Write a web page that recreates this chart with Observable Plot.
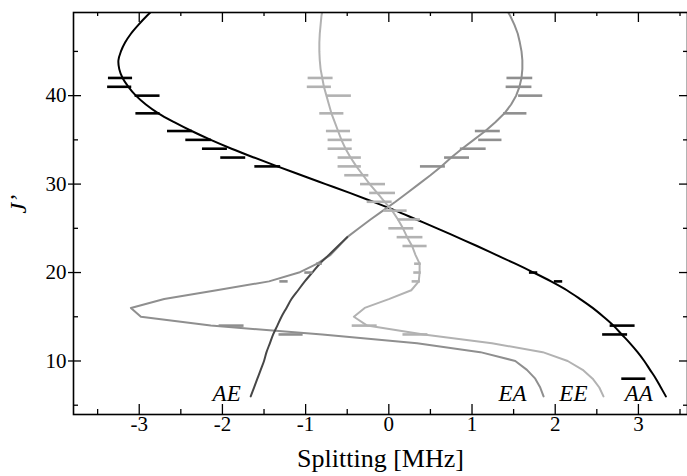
<!DOCTYPE html>
<html>
<head>
<meta charset="utf-8">
<script src="https://cdn.jsdelivr.net/npm/d3@7"></script>
<script src="https://cdn.jsdelivr.net/npm/@observablehq/plot@0.6"></script>
<style>
  html, body { margin: 0; padding: 0; background: white; }
  svg text { font-family: "Liberation Serif", "DejaVu Serif", serif; }
</style>
</head>
<body>
<div id="chart"></div>
<script>
// J' values for the computed curves
const J = [6,7,8,9,10,11,12,13,14,15,16,17,18,19,20,21,22,23,24,25,26,27,28,29,30,31,32,33,34,35,36,37,38,39,40,41,42,43,44,45,46,47,48,49,50];
// splitting [MHz] of each symmetry component
const aaX = [3.33,3.27,3.21,3.14,3.07,2.99,2.90,2.80,2.70,2.58,2.45,2.30,2.14,1.95,1.74,1.52,1.29,1.06,0.82,0.58,0.33,0.08,-0.19,-0.47,-0.76,-1.05,-1.34,-1.62,-1.89,-2.14,-2.37,-2.58,-2.77,-2.92,-3.04,-3.13,-3.20,-3.24,-3.25,-3.22,-3.17,-3.10,-3.01,-2.91,-2.80];
const eaX = [1.86,1.82,1.76,1.66,1.52,1.10,0.34,-0.80,-2.14,-2.98,-3.10,-2.70,-2.07,-1.44,-1.08,-0.86,-0.70,-0.60,-0.50,-0.36,-0.22,-0.07,0.08,0.22,0.36,0.50,0.63,0.75,0.88,1.02,1.16,1.28,1.39,1.47,1.53,1.57,1.595,1.605,1.605,1.595,1.575,1.55,1.51,1.46,1.40];
const eeX = [2.58,2.53,2.45,2.33,2.15,1.85,1.24,0.42,-0.26,-0.42,-0.29,0.00,0.27,0.36,0.37,0.37,0.32,0.28,0.22,0.17,0.11,0.04,-0.05,-0.14,-0.23,-0.31,-0.39,-0.46,-0.52,-0.57,-0.61,-0.65,-0.69,-0.72,-0.75,-0.78,-0.80,-0.82,-0.83,-0.835,-0.835,-0.83,-0.82,-0.81,-0.79];
const aeJ = [6,7,8,9,10,11,12,13,14,15,16,17,18,19,20,21,22,23,24];
const aeX = [-1.66,-1.62,-1.58,-1.54,-1.50,-1.47,-1.43,-1.39,-1.34,-1.29,-1.23,-1.17,-1.09,-1.01,-0.92,-0.83,-0.72,-0.61,-0.50];

// observed splittings (horizontal bars)
const aaObsJ  = [42,41,40,38,36,35,34,33,32,20,19,14,13,8];
const aaObsX1 = [-3.37,-3.38,-3.05,-3.04,-2.66,-2.44,-2.24,-2.02,-1.61,1.69,1.99,2.66,2.57,2.80];
const aaObsX2 = [-3.08,-3.09,-2.75,-2.75,-2.36,-2.13,-1.94,-1.72,-1.30,1.79,2.09,2.96,2.87,3.09];
const eaObsJ  = [42,41,40,38,36,35,34,33,32,21,20,19,14,13];
const eaObsX1 = [1.42,1.41,1.56,1.38,1.04,1.08,0.86,0.67,0.38,-0.87,-1.01,-1.31,-2.04,-1.32];
const eaObsX2 = [1.73,1.72,1.85,1.66,1.34,1.36,1.17,0.97,0.68,-0.80,-0.91,-1.21,-1.74,-1.03];
const eeObsJ  = [42,41,40,38,36,35,34,33,32,31,30,29,28,27,26,25,24,23,21,20,19,14,13];
const eeObsX1 = [-0.97,-0.98,-0.74,-0.83,-0.75,-0.73,-0.73,-0.61,-0.61,-0.53,-0.34,-0.23,-0.26,-0.06,0.11,0.00,0.10,0.17,0.31,0.30,0.28,-0.44,0.17];
const eeObsX2 = [-0.67,-0.69,-0.45,-0.54,-0.46,-0.44,-0.44,-0.33,-0.33,-0.24,-0.04,0.08,0.04,0.22,0.38,0.30,0.41,0.46,0.39,0.39,0.38,-0.14,0.47];

// axis ticks and labels
const xMajor = [-3,-2,-1,0,1,2,3];
const xMinor = [-3.5,-2.5,-1.5,-0.5,0.5,1.5,2.5,3.5];
const yMajor = [10,20,30,40];
const yMinor = [5,15,25,35,45];
const curveNames = ["AE","EA","EE","AA"];
const xLabel = "Splitting [MHz]";
const yLabel = "J’";

const W = 687, H = 476;
const mL = 73, mR = 0, mT = 12, mB = 62;
const innerW = W - mL - mR, innerH = H - mT - mB;
const serif = "Liberation Serif";

const curve = (js, xs) => js.map((j, i) => ({J: j, x: xs[i]}));
const obs = (js, x1, x2) => js.map((j, i) => ({J: j, x1: x1[i], x2: x2[i]}));

const aa = curve(J, aaX), ea = curve(J, eaX), ee = curve(J, eeX), ae = curve(aeJ, aeX);
// each label sits just left of the lower end of its curve
const labelEnds = [
  {name: curveNames[0], x: aeX[0], J: aeJ[0], dx: -10},
  {name: curveNames[1], x: eaX[0], J: J[0], dx: -17},
  {name: curveNames[2], x: eeX[0], J: J[0], dx: -16},
  {name: curveNames[3], x: aaX[0], J: J[0], dx: -13}
];
const labelMarks = labelEnds.map(r => Plot.text([r], {
  x: "x", y: "J", text: "name", dx: r.dx, dy: -3, textAnchor: "end",
  fontFamily: serif, fontStyle: "italic", fontSize: 23, fill: "black"
}));

const cAA = "#000000", cEA = "#8f8f8f", cEE = "#b2b2b2", cAE = "#474747";

const chart = Plot.plot({
  width: W, height: H,
  marginLeft: mL, marginRight: mR, marginTop: mT, marginBottom: mB,
  x: {domain: [-3.79, 3.59], axis: null},
  y: {domain: [3.95, 49.4], axis: null},
  style: {fontFamily: serif, background: "white", color: "black"},
  marks: [
    Plot.line(aa, {x: "x", y: "J", curve: "catmull-rom", stroke: cAA, strokeWidth: 2, clip: true}),
    Plot.line(ea, {x: "x", y: "J", curve: "linear", stroke: cEA, strokeWidth: 2, clip: true}),
    Plot.line(ee, {x: "x", y: "J", curve: "linear", stroke: cEE, strokeWidth: 2, clip: true}),
    Plot.line(ae, {x: "x", y: "J", curve: "catmull-rom", stroke: cAE, strokeWidth: 2, clip: true}),
    Plot.ruleY(obs(eeObsJ, eeObsX1, eeObsX2), {y: "J", x1: "x1", x2: "x2", stroke: cEE, strokeWidth: 2.6}),
    Plot.ruleY(obs(eaObsJ, eaObsX1, eaObsX2), {y: "J", x1: "x1", x2: "x2", stroke: cEA, strokeWidth: 2.6}),
    Plot.ruleY(obs(aaObsJ, aaObsX1, aaObsX2), {y: "J", x1: "x1", x2: "x2", stroke: cAA, strokeWidth: 2.6}),
    // curve labels
    ...labelMarks,
    // frame
    Plot.frame({stroke: "black", strokeWidth: 1.6}),
    // bottom ticks
    Plot.tickX(xMajor, {x: d => d, insetTop: innerH - 10, stroke: "black", strokeWidth: 1.3}),
    Plot.tickX(xMinor, {x: d => d, insetTop: innerH - 5, stroke: "black", strokeWidth: 1.3}),
    // top ticks
    Plot.tickX(xMajor, {x: d => d, insetBottom: innerH - 10, stroke: "black", strokeWidth: 1.3}),
    Plot.tickX(xMinor, {x: d => d, insetBottom: innerH - 4, stroke: "black", strokeWidth: 1.3}),
    // left ticks
    Plot.tickY(yMajor, {y: d => d, insetRight: innerW - 8, insetLeft: -5, stroke: "black", strokeWidth: 1.3}),
    Plot.tickY(yMinor, {y: d => d, insetRight: innerW - 5, stroke: "black", strokeWidth: 1.3}),
    // right ticks
    Plot.tickY(yMajor, {y: d => d, insetLeft: innerW - 8, stroke: "black", strokeWidth: 1.3}),
    Plot.tickY(yMinor, {y: d => d, insetLeft: innerW - 4, stroke: "black", strokeWidth: 1.3}),
    // tick labels
    Plot.text(xMajor, {x: d => d, frameAnchor: "bottom", dy: 16, text: d => String(d), fontFamily: serif, fontSize: 21, fill: "black"}),
    Plot.text(yMajor, {y: d => d, frameAnchor: "left", dx: -7, textAnchor: "end", text: d => String(d), fontFamily: serif, fontSize: 21, fill: "black"}),
    // axis titles
    Plot.text([xLabel], {frameAnchor: "bottom", dy: 52, text: d => d, fontFamily: serif, fontSize: 26, fill: "black"}),
    Plot.text([yLabel], {frameAnchor: "left", dx: -55, rotate: -90, text: d => d, fontFamily: serif, fontStyle: "italic", fontSize: 24, fill: "black"})
  ]
});
document.getElementById("chart").appendChild(chart);
</script>
</body>
</html>
